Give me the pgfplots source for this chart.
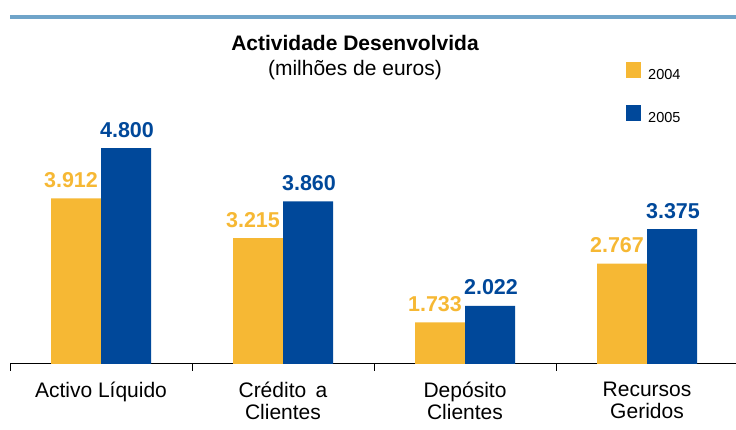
\documentclass[border=0pt]{standalone}
\usepackage{pgfplots}
\pgfplotsset{compat=1.18}
\usepackage{fontspec}
\setmainfont{Liberation Sans}
\definecolor{cyel}{HTML}{F6B834}
\definecolor{cblu}{HTML}{00489A}
\definecolor{cline}{HTML}{6FA4C9}
\begin{document}
\begin{tikzpicture}
\path[use as bounding box] (0,0) rectangle (736pt,430pt);
\fill[cline] (10pt,410.5pt) rectangle (736pt,414.5pt);
\begin{axis}[
  at={(10pt,66pt)}, anchor=south west,
  scale only axis, width=726pt, height=284.2pt,
  xmin=-0.5, xmax=3.489, ymin=1000, ymax=6000,
  axis x line*=bottom, axis y line=none,
  x axis line style={line width=1pt},
  xtick={0,1,2,3},
  xticklabels={Activo Líquido,{Crédito\hspace{0.45em}a\\Clientes},{Depósito\\Clientes},{Recursos\\Geridos}},
  major tick length=0pt,
  minor xtick={-0.5,0.5,1.5,2.5},
  minor tick length=7pt, tick align=outside,
  every tick/.style={black, line width=1pt},
  xticklabel style={align=center, font=\fontsize{21}{22}\selectfont, inner sep=0pt, yshift=-17.5pt},
  ytick=\empty,
  ybar, bar width=50pt,
  clip=false,
  nodes near coords, point meta=explicit symbolic,
  every node near coord/.append style={font=\fontsize{21.5}{24}\selectfont\bfseries, anchor=south, inner sep=0pt, yshift=10.5pt},
  legend image code/.code={\fill[#1] (0pt,-3pt) rectangle (15pt,13pt);},
  legend style={at={(axis description cs:0.8485,1.0626)}, anchor=north west, draw=none, fill=none,
    font=\fontsize{14.5}{16}\selectfont, inner sep=0pt, row sep=24pt,
    /tikz/every odd column/.style={column sep=7pt},
    nodes={inner sep=0pt}},
  legend cell align=left,
]
\addplot[fill=cyel, draw=none, bar shift=-25pt, every node near coord/.append style={text=cyel, xshift=-5pt}]
  coordinates {(0,3912)[3.912] (1,3215)[3.215] (2,1733)[1.733] (3,2767)[2.767]};
\addplot[fill=cblu, draw=none, bar shift=25pt, every node near coord/.append style={text=cblu, xshift=1pt}]
  coordinates {(0,4800)[4.800] (1,3860)[3.860] (2,2022)[2.022] (3,3375)[3.375]};
\legend{2004,2005}
\node[anchor=base, font=\fontsize{21}{24}\selectfont\bfseries] at (axis description cs:0.4752,1.1015) {Actividade Desenvolvida};
\node[anchor=base, font=\fontsize{21}{24}\selectfont] at (axis description cs:0.4752,1.0134) {(milhões de euros)};
\end{axis}
\end{tikzpicture}
\end{document}
